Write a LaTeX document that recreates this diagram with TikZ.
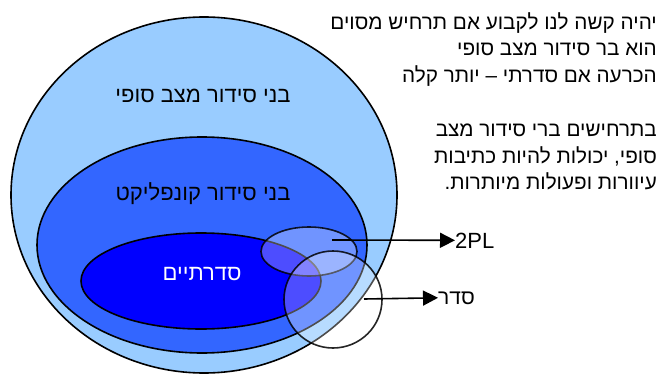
\documentclass[tikz,border=0pt]{standalone}
\usepackage{fontspec}
\setmainfont{Liberation Sans}
\newfontfamily\hebfont[Script=Hebrew]{Liberation Sans}
\TeXXeTstate=1
\usepackage{tikz}
\usetikzlibrary{arrows.meta, positioning}
\definecolor{lightsky}{HTML}{99CCFF}
\definecolor{midblue}{HTML}{3366FF}
\definecolor{deepblue}{HTML}{0000FF}
\tikzset{>={Triangle[length=15pt,width=15pt]}}
\tikzset{setline/.style={draw=black, line width=1.6pt}}
\tikzset{overlay set/.style={draw=black, line width=1.6pt, fill=white, fill opacity=0.3, draw opacity=0.85}}
\tikzset{setlabel/.style={font=\hebfont\fontsize{22}{26}\selectfont, inner sep=0pt}}
\tikzset{note/.style={font=\hebfont\fontsize{20.7}{26.5}\selectfont, align=right, inner sep=0pt}}

\begin{document}
\begin{tikzpicture}[x=1pt, y=-1pt]
  \useasboundingbox (0,0) rectangle (660,374);
  % the three nested classes
  \draw[setline, fill=lightsky] (204,195) ellipse [x radius=193, y radius=178];
  \draw[setline, fill=midblue] (202,245) ellipse [x radius=165, y radius=108];
  \draw[setline, fill=deepblue] (201,281) ellipse [x radius=120, y radius=48];
  \node[setlabel, anchor=base] (finalsr) at (203,103) {\beginR בני סידור מצב סופי\endR};
  \node[setlabel, anchor=base] (conflictsr) at (203,200) {\beginR בני סידור קונפליקט\endR};
  \node[setlabel, anchor=base, text=white] (serial) at (202,280) {\beginR סדרתיים\endR};
  % 2PL and strict
  \draw[overlay set] (309,251.5) ellipse [x radius=48, y radius=24.5];
  \draw[overlay set] (333,299.5) ellipse [x radius=49, y radius=48.5];
  \coordinate (tplin) at (332,240);
  \coordinate (strictin) at (364,299);
  \node[anchor=base west, font=\fontsize{22}{26}\selectfont, inner sep=0pt] (tpl) at (455,248) {2PL};
  \node[setlabel, anchor=base west, font=\hebfont\fontsize{21}{26}\selectfont] (strict) at (438,304) {\beginR סדר\endR};
  \draw[->, line width=1.6pt] (tplin) -- (tpl.west);
  \draw[->, line width=1.6pt] (strictin) -- (strict.west);
  % notes
  \node[note, anchor=north east] (hard) at (657,12) {\beginR יהיה קשה לנו לקבוע אם תרחיש מסוים\endR\\
    \beginR הוא בר סידור מצב סופי\endR\\
    \beginR הכרעה אם סדרתי – יותר קלה\endR};
  \node[note, anchor=north east] (blind) at (657,124) {\beginR בתרחישים ברי סידור מצב\endR\\
    \beginR סופי, יכולות להיות כתיבות\endR\\
    \beginR עיוורות ופעולות מיותרות.\endR};
\end{tikzpicture}
\end{document}
